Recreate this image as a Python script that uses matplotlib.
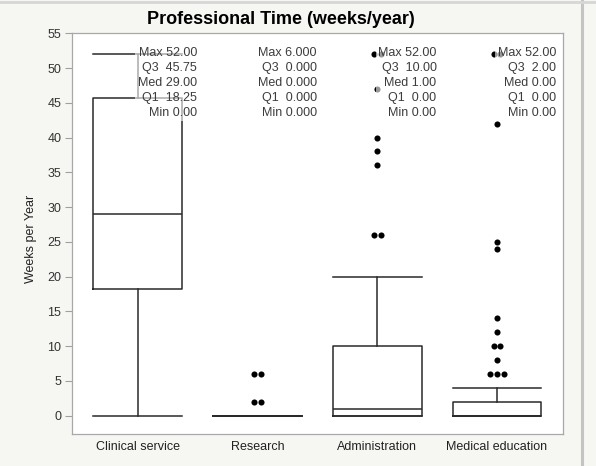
import matplotlib
matplotlib.use("Agg")
import matplotlib.pyplot as plt
from matplotlib.lines import Line2D
from collections import Counter

plt.rcParams['font.family'] = ['Liberation Sans', 'DejaVu Sans']

# ---- data ----
categories = ["Clinical service", "Research", "Administration", "Medical education"]
q_max = [52.0, 6.0, 52.0, 52.0]
q3 = [45.75, 0.0, 10.0, 2.0]
median = [29.0, 0.0, 1.0, 0.0]
q1 = [18.25, 0.0, 0.0, 0.0]
q_min = [0.0, 0.0, 0.0, 0.0]
whisker_hi = [52.0, 0.0, 20.0, 4.0]
whisker_lo = [0.0, 0.0, 0.0, 0.0]
outliers = [
    [],
    [6, 6, 2, 2],
    [52, 52, 47, 40, 38, 36, 26, 26],
    [52, 52, 42, 25, 24, 14, 12, 10, 10, 8, 6, 6, 6],
]
decimals = [2, 3, 2, 2]
yticks = [0, 5, 10, 15, 20, 25, 30, 35, 40, 45, 50, 55]

# ---- figure ----
W, H, DPI = 596, 466, 100
fig = plt.figure(figsize=(W / DPI, H / DPI), dpi=DPI)
fig.patch.set_facecolor('#f6f6f3')

ax_l, ax_r, ax_t, ax_b = 71.7, 563.3, 33.3, 434.0
ax = fig.add_axes([ax_l / W, 1 - ax_b / H, (ax_r - ax_l) / W, (ax_b - ax_t) / H])
ax.set_facecolor('white')

positions = list(range(len(categories)))
stats = []
for i in positions:
    stats.append(dict(med=median[i], q1=q1[i], q3=q3[i],
                      whislo=whisker_lo[i], whishi=whisker_hi[i], fliers=[]))

lc = '#2a2a2a'
ax.bxp(stats, positions=positions, widths=0.74, showfliers=False,
       capwidths=0.74,
       boxprops=dict(color=lc, linewidth=1.1),
       whiskerprops=dict(color=lc, linewidth=1.1),
       capprops=dict(color=lc, linewidth=1.1),
       medianprops=dict(color=lc, linewidth=1.1),
       manage_ticks=False, zorder=2)

# outlier points, duplicates packed side by side
dx = 0.055
for i, pts in enumerate(outliers):
    cnt = Counter(pts)
    for v, n in cnt.items():
        for k in range(n):
            off = (k - (n - 1) / 2) * dx
            ax.plot(positions[i] + off, v, 'o', color='black', markersize=4.4,
                    markeredgewidth=0, zorder=3)

# quantile labels
for i in positions:
    d = decimals[i]
    f = lambda v: f"{v:.{d}f}"
    txt = (f"Max {f(q_max[i])}\n"
           f"Q3  {f(q3[i])}\n"
           f"Med {f(median[i])}\n"
           f"Q1  {f(q1[i])}\n"
           f"Min {f(q_min[i])}")
    ax.text(positions[i] + 0.495, 47.85, txt, ha='right', va='center',
            multialignment='right', fontsize=9, color='#3c3c3c',
            linespacing=1.31, zorder=5,
            bbox=dict(boxstyle='square,pad=0.2', facecolor='white',
                      edgecolor='none', alpha=0.6))

ax.set_xlim(-0.551, 3.553)
ax.set_ylim(-2.66, 55)
ax.set_xticks(positions)
ax.set_xticklabels(categories, fontsize=9, color='#222222')
ax.set_yticks(yticks)
ax.set_yticklabels([str(t) for t in yticks], fontsize=9, color='#333333')
ax.tick_params(axis='x', length=0, pad=5)
ax.tick_params(axis='y', length=5, width=0.8, color='#a0a0a0', pad=2.5)
for s in ax.spines.values():
    s.set_color('#a8a8a8')
    s.set_linewidth(0.9)

fig.text(31 / W, 1 - 239 / H, "Weeks per Year", rotation=90, ha='center',
         va='center', fontsize=9, color='#222222')
fig.text(281 / W, 1 - 20 / H, "Professional Time (weeks/year)", ha='center',
         va='center', fontsize=13, fontweight='bold', color='black')

# panel frame lines
fig.add_artist(Line2D([582 / W, 582 / W], [0, 1], transform=fig.transFigure,
                      color='#c4c4c4', linewidth=2.2))
fig.add_artist(Line2D([0, 1], [1 - 1.5 / H, 1 - 1.5 / H], transform=fig.transFigure,
                      color='#d6d6d6', linewidth=2.0))

fig.savefig('out.png', dpi=DPI, facecolor=fig.get_facecolor())
